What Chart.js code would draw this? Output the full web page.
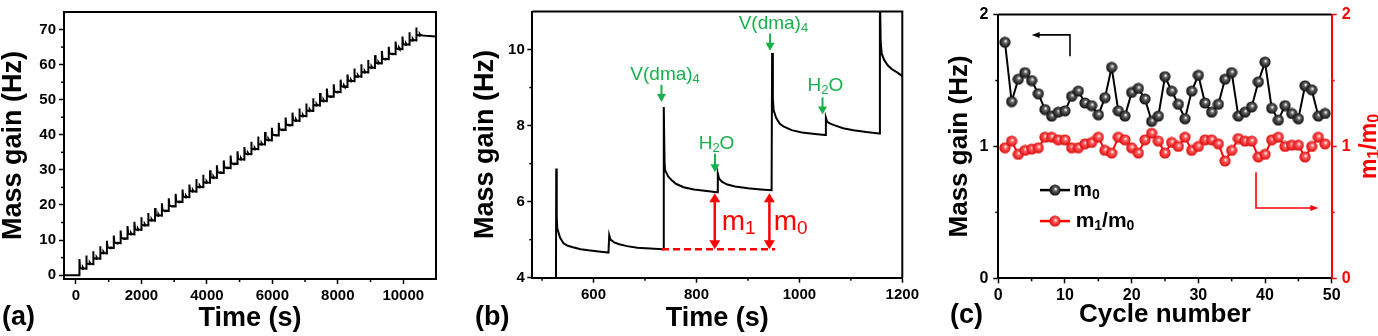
<!DOCTYPE html>
<html>
<head>
<meta charset="utf-8">
<script src="https://cdn.jsdelivr.net/npm/chart.js@4.4.0/dist/chart.umd.min.js"></script>
<style>
  html, body { margin: 0; padding: 0; background: #fff; }
  #wrap { position: relative; width: 1378px; height: 336px; overflow: hidden; }
  canvas { position: absolute; top: 0; }
</style>
</head>
<body>
<div id="wrap">
  <canvas id="chartA" width="460" height="336" style="left:0px"></canvas>
  <canvas id="chartB" width="470" height="336" style="left:460px"></canvas>
  <canvas id="chartC" width="448" height="336" style="left:930px"></canvas>
</div>
<script>
const FONT = "'Liberation Sans', Arial, Helvetica, sans-serif";
const GREEN = '#17b04c';
const RED = '#ff0000';

//// (a) whole run: V(dma)4 pulse times, level before each pulse, spike tops
const aPulseT = [105, 315, 525, 735, 945, 1155, 1365, 1575, 1785, 1995,
  2205, 2415, 2625, 2835, 3045, 3255, 3465, 3675, 3885, 4095,
  4305, 4515, 4725, 4935, 5145, 5355, 5565, 5775, 5985, 6195,
  6405, 6615, 6825, 7035, 7245, 7455, 7665, 7875, 8085, 8295,
  8505, 8715, 8925, 9135, 9345, 9555, 9765, 9975, 10185, 10395];
const aLevel = [0, 1.79, 3.13, 4.64, 6.20, 7.70, 9.10, 10.38, 11.61, 12.87,
  14.14, 15.52, 16.94, 18.27, 19.58, 20.82, 22.19, 23.79, 25.06, 26.29,
  27.70, 29.14, 30.50, 31.69, 32.92, 34.45, 35.87, 37.19, 38.40, 39.82,
  41.36, 42.69, 43.95, 45.27, 46.78, 48.34, 49.57, 50.83, 52.13, 53.62,
  55.26, 56.55, 57.75, 59.06, 60.31, 61.52, 62.98, 64.41, 65.64, 66.89, 68.30];
const aPeak = [4.6, 5.6, 6.8, 8.2, 9.8, 11.3, 12.7, 14.0, 15.2, 16.5,
  17.7, 19.1, 20.5, 21.9, 23.2, 24.4, 25.8, 27.4, 28.6, 29.9,
  31.3, 32.7, 34.1, 35.3, 36.5, 38.0, 39.5, 40.8, 42.0, 43.4,
  44.9, 46.3, 47.5, 48.9, 50.4, 51.9, 53.2, 54.4, 55.7, 57.2,
  58.9, 60.1, 61.3, 62.7, 63.9, 65.1, 66.6, 68.0, 69.2, 70.6];
// one cycle after the pulse: seconds after pulse, Hz above next level
const cycleDt = [20, 104, 106, 125, 209];
const cycleDy = [0.25, -0.05, 0.44, 0.15, 0];
const aStartT = -365;
const aTailT = [10700, 11000];
const aTailY = [68.2, 68.0];
const aXTicks = [0, 2000, 4000, 6000, 8000, 10000];
const aXMinor = [1000, 3000, 5000, 7000, 9000];
const aYTicks = [0, 10, 20, 30, 40, 50, 60, 70];
const aYMinor = [5, 15, 25, 35, 45, 55, 65];

//// (b) zoom on three cycles
const bT = [527, 527.5, 528.5, 529.5, 535, 542, 550, 560, 575, 590, 610, 629,
  630.5, 633, 640, 650, 665, 685, 710, 735,
  736.5, 738, 739, 745, 752, 760, 775, 795, 820, 840,
  841.5, 844, 850, 860, 875, 900, 925, 946,
  947, 948.5, 950, 955, 962, 970, 985, 1005, 1030, 1050,
  1051.5, 1054, 1060, 1070, 1085, 1105, 1130, 1155,
  1156.5, 1158, 1160, 1165, 1172, 1180, 1190, 1200];
const bY = [3.9, 6.87, 5.6, 5.3, 5.05, 4.9, 4.84, 4.8, 4.75, 4.72, 4.69, 4.66,
  5.12, 5.0, 4.93, 4.88, 4.83, 4.79, 4.77, 4.75,
  8.49, 7.04, 6.83, 6.66, 6.56, 6.47, 6.38, 6.32, 6.28, 6.25,
  6.74, 6.6, 6.52, 6.45, 6.4, 6.35, 6.32, 6.30,
  9.91, 8.7, 8.4, 8.2, 8.05, 7.97, 7.88, 7.82, 7.78, 7.75,
  8.21, 8.1, 8.05, 8.0, 7.93, 7.88, 7.83, 7.79,
  11.5, 10.2, 9.89, 9.72, 9.58, 9.48, 9.4, 9.3];
const bXTicks = [600, 800, 1000, 1200];
const bXMinor = [500, 700, 900, 1100];
const bYTicks = [4, 6, 8, 10];
const bYMinor = [5, 7, 9];

//// (c) per cycle
const cCycle = [1, 2, 3, 4, 5, 6, 7, 8, 9, 10, 11, 12, 13, 14, 15, 16, 17, 18, 19, 20,
  21, 22, 23, 24, 25, 26, 27, 28, 29, 30, 31, 32, 33, 34, 35, 36, 37, 38, 39, 40,
  41, 42, 43, 44, 45, 46, 47, 48, 49];
const cM0 = [1.79, 1.34, 1.51, 1.56, 1.50, 1.40, 1.28, 1.23, 1.26, 1.27,
  1.38, 1.42, 1.33, 1.31, 1.24, 1.37, 1.60, 1.27, 1.23, 1.41,
  1.44, 1.36, 1.19, 1.23, 1.53, 1.42, 1.32, 1.21, 1.42, 1.54,
  1.33, 1.26, 1.32, 1.51, 1.56, 1.23, 1.26, 1.30, 1.49, 1.64,
  1.29, 1.20, 1.31, 1.25, 1.21, 1.46, 1.43, 1.23, 1.25];
const cRatio = [0.99, 1.04, 0.94, 0.97, 0.98, 0.99, 1.07, 1.07, 1.05, 1.05,
  0.99, 0.99, 1.02, 1.03, 1.07, 0.97, 0.95, 1.07, 1.05, 0.99,
  0.95, 1.05, 1.10, 1.04, 0.95, 1.03, 1.00, 1.07, 0.97, 1.00,
  1.05, 1.05, 1.02, 0.89, 0.97, 1.06, 1.04, 1.04, 0.92, 0.94,
  1.05, 1.07, 1.00, 1.01, 1.01, 0.92, 1.00, 1.07, 1.02];
const cXTicks = [0, 10, 20, 30, 40, 50];
const cXMinor = [5, 15, 25, 35, 45];
const cYTicks = [0, 1, 2];
const cYMinor = [0.5, 1.5];

Chart.defaults.font.family = FONT;
Chart.defaults.color = '#000';

// text with subscripts: parts = [[text, isSub], ...]
function subText(ctx, parts, x, y, size, weight, color, align) {
  ctx.save();
  ctx.fillStyle = color;
  ctx.textBaseline = 'alphabetic';
  ctx.textAlign = 'left';
  const fontOf = sub => weight + ' ' + Math.round(sub ? size * 0.68 : size) + 'px ' + FONT;
  let w = 0;
  parts.forEach(([s, sub]) => { ctx.font = fontOf(sub); w += ctx.measureText(s).width; });
  let cx = align === 'center' ? x - w / 2 : x;
  parts.forEach(([s, sub]) => {
    ctx.font = fontOf(sub);
    ctx.fillText(s, cx, y + (sub ? size * 0.15 : 0));
    cx += ctx.measureText(s).width;
  });
  ctx.restore();
}

function arrowHead(ctx, x, y, ang, len, wid) {
  ctx.save();
  ctx.translate(x, y);
  ctx.rotate(ang);
  ctx.beginPath();
  ctx.moveTo(0, 0);
  ctx.lineTo(-len, -wid / 2);
  ctx.lineTo(-len, wid / 2);
  ctx.closePath();
  ctx.fill();
  ctx.restore();
}

// polyline whose last point gets a filled head
function arrow(ctx, pts, color, lw, len, wid, bothEnds) {
  ctx.save();
  ctx.strokeStyle = color;
  ctx.fillStyle = color;
  ctx.lineWidth = lw;
  const n = pts.length;
  const a = Math.atan2(pts[n - 1][1] - pts[n - 2][1], pts[n - 1][0] - pts[n - 2][0]);
  const b = Math.atan2(pts[0][1] - pts[1][1], pts[0][0] - pts[1][0]);
  ctx.beginPath();
  if (bothEnds) ctx.moveTo(pts[0][0] - len * 0.8 * Math.cos(b), pts[0][1] - len * 0.8 * Math.sin(b));
  else ctx.moveTo(pts[0][0], pts[0][1]);
  for (let i = 1; i < n - 1; i++) ctx.lineTo(pts[i][0], pts[i][1]);
  ctx.lineTo(pts[n - 1][0] - len * 0.8 * Math.cos(a), pts[n - 1][1] - len * 0.8 * Math.sin(a));
  ctx.stroke();
  arrowHead(ctx, pts[n - 1][0], pts[n - 1][1], a, len, wid);
  if (bothEnds) arrowHead(ctx, pts[0][0], pts[0][1], b, len, wid);
  ctx.restore();
}

function axis(o) {
  const color = o.color || '#000';
  return {
    type: 'linear',
    position: o.pos,
    min: o.min,
    max: o.max,
    afterBuildTicks: s => { s.ticks = o.ticks.map(v => ({ value: v })); },
    afterFit: s => { if (o.pos === 'bottom') s.height = o.size; else s.width = o.size; },
    border: { display: true, color: color, width: 2 },
    grid: { display: true, drawOnChartArea: false, drawTicks: true, tickLength: 5, tickWidth: 1.5, tickColor: color },
    ticks: {
      color: color, autoSkip: false, maxRotation: 0, minRotation: 0, padding: o.tickPad,
      font: { size: o.tickSize || 15, weight: 'bold' },
      callback: v => String(v),
    },
    title: o.title
      ? { display: true, text: o.title, color: '#000', font: { size: o.titleSize || 27, weight: 'bold', lineHeight: 1 }, padding: o.titlePad }
      : { display: false },
  };
}

// box, minor ticks, panel letter
function makeFrame(cfg) {
  return {
    id: 'frame',
    afterDraw(chart) {
      const { ctx, chartArea: a, scales } = chart;
      ctx.save();
      ctx.strokeStyle = '#000';
      ctx.lineWidth = 2;
      ctx.beginPath();
      ctx.moveTo(a.left, a.top);
      ctx.lineTo(a.right, a.top);
      if (cfg.rightBox) ctx.lineTo(a.right, a.bottom);
      ctx.stroke();
      ctx.lineWidth = 1.5;
      cfg.minor.forEach(([id, vals, color]) => {
        const s = scales[id];
        ctx.strokeStyle = color || '#000';
        vals.forEach(v => {
          const p = s.getPixelForValue(v);
          ctx.beginPath();
          if (s.position === 'bottom') { ctx.moveTo(p, s.top); ctx.lineTo(p, s.top + 3); }
          else if (s.position === 'left') { ctx.moveTo(s.right, p); ctx.lineTo(s.right - 3, p); }
          else { ctx.moveTo(s.left, p); ctx.lineTo(s.left + 3, p); }
          ctx.stroke();
        });
      });
      ctx.fillStyle = '#000';
      ctx.font = 'bold 27px ' + FONT;
      ctx.textAlign = 'left';
      ctx.textBaseline = 'alphabetic';
      ctx.fillText(cfg.letter, cfg.letterX, cfg.letterY);
      ctx.restore();
    },
  };
}

const common = {
  responsive: false,
  animation: false,
  events: [],
  plugins: { legend: { display: false }, tooltip: { enabled: false } },
};

//// (a)
const aPts = [{ x: aStartT, y: aLevel[0] }];
aPulseT.forEach((t, k) => {
  aPts.push({ x: t, y: aLevel[k] }, { x: t + 2, y: aPeak[k] });
  cycleDt.forEach((dt, j) => aPts.push({ x: t + dt, y: aLevel[k + 1] + cycleDy[j] }));
});
aTailT.forEach((t, i) => aPts.push({ x: t, y: aTailY[i] }));

new Chart(document.getElementById('chartA'), {
  type: 'line',
  data: { datasets: [{ data: aPts, borderColor: '#000', borderWidth: 2, pointRadius: 0, tension: 0 }] },
  options: {
    ...common,
    layout: { padding: { left: 0, top: 6, right: 24, bottom: 0 }, autoPadding: false },
    scales: {
      x: axis({ pos: 'bottom', min: aStartT, max: 11000, ticks: aXTicks, size: 57, tickPad: 3, title: 'Time (s)', titlePad: { top: 0, bottom: 4.2 } }),
      y: axis({ pos: 'left', min: -1.1, max: 75, ticks: aYTicks, size: 64, tickPad: 3, title: 'Mass gain (Hz)', titlePad: { top: 0, bottom: 0 } }),
    },
  },
  plugins: [makeFrame({ rightBox: true, minor: [['x', aXMinor], ['y', aYMinor]], letter: '(a)', letterX: 2, letterY: 325 })],
});

//// (b)
const bPts = bT.map((t, i) => ({ x: t, y: bY[i] }));
const bNotes = [
  { parts: [['V(dma)', 0], ['4', 1]], tx: 739, ty: 9.2, ax: 732, a0: 9.07, a1: 8.62 },
  { parts: [['V(dma)', 0], ['4', 1]], tx: 949.5, ty: 10.53, ax: 943, a0: 10.42, a1: 9.97 },
  { parts: [['H', 0], ['2', 1], ['O', 0]], tx: 839, ty: 7.39, ax: 836, a0: 7.26, a1: 6.77 },
  { parts: [['H', 0], ['2', 1], ['O', 0]], tx: 1050.5, ty: 8.9, ax: 1045, a0: 8.74, a1: 8.29 },
];
const bNotesPlugin = {
  id: 'notesB',
  afterDatasetsDraw(chart) {
    const { ctx, scales: { x, y } } = chart;
    bNotes.forEach(n => {
      subText(ctx, n.parts, x.getPixelForValue(n.tx), y.getPixelForValue(n.ty), 19, 'normal', GREEN, 'center');
      arrow(ctx, [[x.getPixelForValue(n.ax), y.getPixelForValue(n.a0)], [x.getPixelForValue(n.ax), y.getPixelForValue(n.a1)]], GREEN, 2, 8, 9, false);
    });
    // base line and the two mass steps
    ctx.save();
    ctx.strokeStyle = RED;
    ctx.lineWidth = 2.5;
    ctx.setLineDash([7, 4]);
    ctx.beginPath();
    ctx.moveTo(x.getPixelForValue(733), y.getPixelForValue(4.75));
    ctx.lineTo(x.getPixelForValue(953), y.getPixelForValue(4.75));
    ctx.stroke();
    ctx.restore();
    [835.6, 941.7].forEach(t => {
      arrow(ctx, [[x.getPixelForValue(t), y.getPixelForValue(4.75)], [x.getPixelForValue(t), y.getPixelForValue(6.22)]], RED, 2.5, 9, 11, true);
    });
    subText(ctx, [['m', 0], ['1', 1]], x.getPixelForValue(849), y.getPixelForValue(5.25), 28, 'normal', RED, 'left');
    subText(ctx, [['m', 0], ['0', 1]], x.getPixelForValue(950), y.getPixelForValue(5.25), 28, 'normal', RED, 'left');
  },
};

new Chart(document.getElementById('chartB'), {
  type: 'line',
  data: { datasets: [{ data: bPts, borderColor: '#000', borderWidth: 2, pointRadius: 0, tension: 0 }] },
  options: {
    ...common,
    layout: { padding: { left: 0, top: 6, right: 27.7, bottom: 0 }, autoPadding: false },
    scales: {
      x: axis({ pos: 'bottom', min: 481, max: 1200, ticks: bXTicks, size: 58.3, tickPad: 3, title: 'Time (s)', titlePad: { top: 0, bottom: 4.2 } }),
      y: axis({ pos: 'left', min: 4, max: 11, ticks: bYTicks, size: 72.3, tickPad: 2.5, title: 'Mass gain (Hz)', titlePad: { top: 12.3, bottom: 0 } }),
    },
  },
  plugins: [bNotesPlugin, makeFrame({ rightBox: true, minor: [['x', bXMinor], ['y', bYMinor]], letter: '(b)', letterX: 15, letterY: 325 })],
});

//// (c)
function ball(edge, mid) {
  const c = document.createElement('canvas');
  c.width = 12;
  c.height = 12;
  const g = c.getContext('2d');
  const grd = g.createRadialGradient(6.8, 4.8, 0.3, 6, 6, 6);
  grd.addColorStop(0, '#ffffff');
  grd.addColorStop(0.28, mid);
  grd.addColorStop(1, edge);
  g.fillStyle = grd;
  g.beginPath();
  g.arc(6, 6, 5.6, 0, Math.PI * 2);
  g.fill();
  return c;
}
const blackBall = ball('#000000', '#666666');
const redBall = ball('#d80000', '#ff6060');

const cLegendPlugin = {
  id: 'notesC',
  afterDraw(chart) {
    const { ctx, chartArea: a, scales: { x, y } } = chart;
    // which axis each series belongs to
    arrow(ctx, [[x.getPixelForValue(10.75), y.getPixelForValue(1.685)], [x.getPixelForValue(10.75), y.getPixelForValue(1.846)], [x.getPixelForValue(5), y.getPixelForValue(1.846)]], '#000', 1.6, 8, 6, false);
    arrow(ctx, [[x.getPixelForValue(38.65), y.getPixelForValue(0.805)], [x.getPixelForValue(38.65), y.getPixelForValue(0.533)], [x.getPixelForValue(48), y.getPixelForValue(0.533)]], RED, 1.6, 8, 6, false);
    // legend
    const rows = [
      { color: '#000', img: blackBall, y: 0.669, parts: [['m', 0], ['0', 1]], tx: 11.25 },
      { color: RED, img: redBall, y: 0.434, parts: [['m', 0], ['1', 1], ['/m', 0], ['0', 1]], tx: 11.6 },
    ];
    rows.forEach(r => {
      const py = y.getPixelForValue(r.y);
      ctx.save();
      ctx.strokeStyle = r.color;
      ctx.lineWidth = 2.5;
      ctx.beginPath();
      ctx.moveTo(x.getPixelForValue(6.25), py);
      ctx.lineTo(x.getPixelForValue(10.75), py);
      ctx.stroke();
      ctx.drawImage(r.img, x.getPixelForValue(8.5) - 6, py - 6);
      ctx.restore();
      subText(ctx, r.parts, x.getPixelForValue(r.tx), py + 6, 21, 'bold', '#000', 'left');
    });
    // right axis title, reading upward
    ctx.save();
    ctx.translate(437.5, (a.top + a.bottom) / 2);
    ctx.rotate(-Math.PI / 2);
    subText(ctx, [['m', 0], ['1', 1], ['/m', 0], ['0', 1]], 0, 8, 23, 'bold', RED, 'center');
    ctx.restore();
  },
};

new Chart(document.getElementById('chartC'), {
  type: 'line',
  data: {
    datasets: [
      {
        label: 'm1/m0', yAxisID: 'y1',
        data: cCycle.map((n, i) => ({ x: n, y: cRatio[i] })),
        borderColor: RED, borderWidth: 2, pointStyle: redBall, pointRadius: 5, tension: 0,
      },
      {
        label: 'm0', yAxisID: 'y',
        data: cCycle.map((n, i) => ({ x: n, y: cM0[i] })),
        borderColor: '#000', borderWidth: 2, pointStyle: blackBall, pointRadius: 5, tension: 0,
      },
    ],
  },
  options: {
    ...common,
    layout: { padding: { left: 0, top: 9.3, right: 0, bottom: 0 }, autoPadding: false },
    scales: {
      x: axis({ pos: 'bottom', min: 0, max: 50, ticks: cXTicks, size: 57.7, tickPad: 3, tickSize: 16, title: 'Cycle number', titleSize: 26, titlePad: { top: 0, bottom: 8 } }),
      y: axis({ pos: 'left', min: 0, max: 2, ticks: cYTicks, size: 68.3, tickPad: 5, tickSize: 16, title: 'Mass gain (Hz)', titleSize: 26, titlePad: { top: 17, bottom: 0 } }),
      y1: axis({ pos: 'right', min: 0, max: 2, ticks: cYTicks, size: 46.3, tickPad: 5, tickSize: 16, color: RED }),
    },
  },
  plugins: [cLegendPlugin, makeFrame({ rightBox: false, minor: [['x', cXMinor], ['y', cYMinor], ['y1', cYMinor, RED]], letter: '(c)', letterX: 20, letterY: 323 })],
});
</script>
</body>
</html>
